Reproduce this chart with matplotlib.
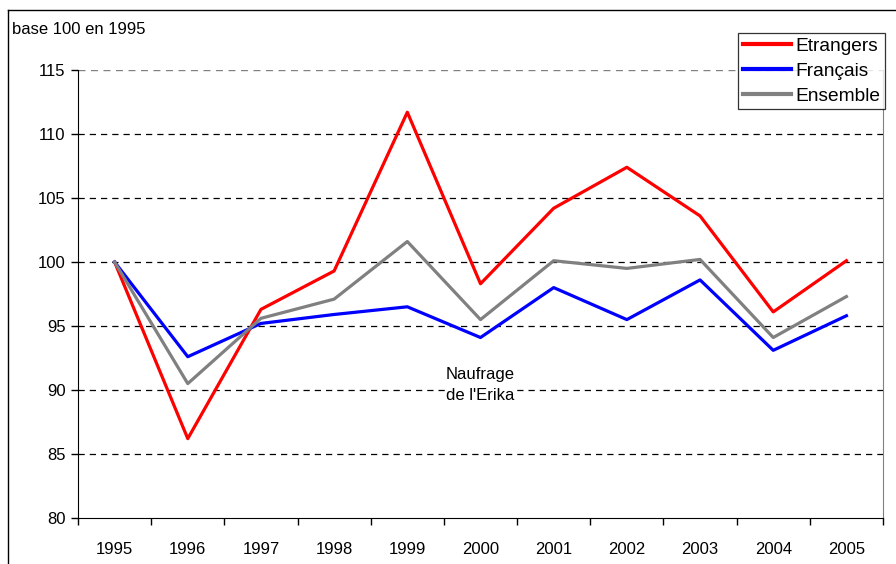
import matplotlib
matplotlib.use("Agg")
import matplotlib.pyplot as plt
from matplotlib.lines import Line2D
import numpy as np

plt.rcParams['font.family'] = ['Liberation Sans', 'DejaVu Sans']

years = ['1995', '1996', '1997', '1998', '1999', '2000', '2001', '2002', '2003', '2004', '2005']
etrangers = [100, 86.2, 96.3, 99.3, 111.7, 98.3, 104.2, 107.4, 103.6, 96.1, 100.1]
francais = [100, 92.6, 95.2, 95.9, 96.5, 94.1, 98.0, 95.5, 98.6, 93.1, 95.8]
ensemble = [100, 90.5, 95.6, 97.1, 101.6, 95.5, 100.1, 99.5, 100.2, 94.1, 97.3]

W, H = 896, 564
fs = 12
fig = plt.figure(figsize=(W / 100, H / 100), dpi=100)
ax = fig.add_axes([78 / W, 1 - 518 / H, (883 - 78) / W, (518 - 70) / H])

x = np.arange(len(years))
ax.plot(x, etrangers, color='#ff0000', lw=2.3, label='Etrangers')
ax.plot(x, francais, color='#0000ff', lw=2.3, label='Français')
ax.plot(x, ensemble, color='#808080', lw=2.3, label='Ensemble')

ax.set_xlim(-0.5, len(years) - 0.5)
ax.set_ylim(80, 115)
ax.set_yticks(np.arange(80, 116, 5))
ax.set_xticks(x)
ax.set_xticklabels(years)
ax.set_xticks(np.arange(-0.5, len(years), 1), minor=True)
ax.tick_params(axis='x', which='major', length=0, pad=17, labelsize=fs)
ax.tick_params(axis='x', which='minor', length=5, direction='out', width=1)
ax.tick_params(axis='y', length=5, direction='out', width=1, labelsize=fs, pad=4)

for v in range(85, 115, 5):
    ax.axhline(v, color='black', lw=0.9, ls=(0, (5, 4)), zorder=0)
ax.axhline(115, color='#808080', lw=1.0, ls=(0, (5, 4)), zorder=0)

ax.spines['top'].set_visible(False)
ax.spines['right'].set_color('#808080')
ax.spines['left'].set_color('black')
ax.spines['bottom'].set_color('black')

ax.text(5, 90.4, "Naufrage\nde l'Erika", ha='center', va='center', fontsize=fs, linespacing=1.5,
        bbox=dict(facecolor='white', edgecolor='none', pad=1), zorder=1)

fig.text(12 / W, 1 - 29 / H, 'base 100 en 1995', fontsize=fs, ha='left', va='center')

leg = ax.legend(loc='upper left', bbox_to_anchor=(738 / W, 1 - 33 / H), bbox_transform=fig.transFigure,
                frameon=True, fancybox=False, fontsize=13.8, handlelength=2.5, handletextpad=0.25,
                borderpad=0.25, labelspacing=0.38, borderaxespad=0)
leg.get_frame().set_edgecolor('black')
leg.get_frame().set_linewidth(0.9)
for h in leg.get_lines():
    h.set_linewidth(3)

fig.add_artist(Line2D([8 / W, 8 / W], [0, 1 - 10 / H], transform=fig.transFigure, color='black', lw=1))
fig.add_artist(Line2D([8 / W, 1], [1 - 10 / H, 1 - 10 / H], transform=fig.transFigure, color='black', lw=1))

fig.savefig('out.png', dpi=100)
